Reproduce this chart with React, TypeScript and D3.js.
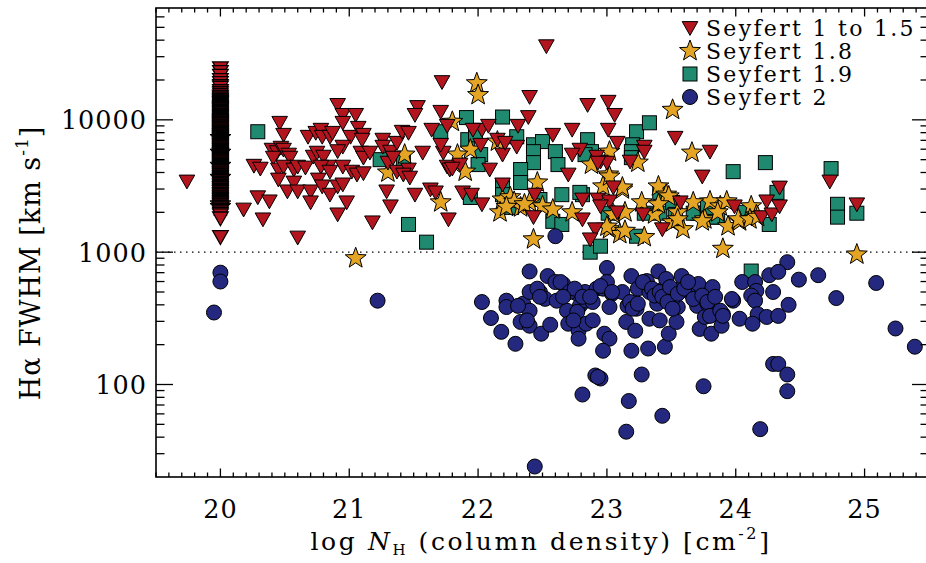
import React from "react";
import * as d3 from "d3";

const W = 926;
const H = 563;

// ---- axis ticks ----
const xMajorTicks = [20, 21, 22, 23, 24, 25];
const yMajorTicks = [100, 1000, 10000];
const yTickLabels = ["100", "1000", "10000"];

// ---- legend ----
const seriesNames = ["Seyfert 1 to 1.5", "Seyfert 1.8", "Seyfert 1.9", "Seyfert 2"];

// ---- data: [log NH, FWHM km/s] ----
// Seyfert 1 to 1.5 objects plotted at log NH = 20 (upper-limit column)
const sey1ColumnNH = 20.0;
const sey1ColumnFWHM = [
  24500, 23000, 21500, 20000, 16500, 15500, 14500, 13800, 13000, 12300, 11800, 11200,
  10700, 10200, 9800, 9400, 9100, 8800, 8500, 8200, 7900, 7600, 7400, 7200, 7000, 6800,
  6600, 6400, 6200, 6000, 5800, 5600, 5450, 5300, 5150, 5000, 4850, 4700, 4550, 4400,
  4250, 4100, 3950, 3800, 3650, 3500, 3350, 3200, 3050, 2900, 2750, 2600, 2450, 2350,
  2250, 2150, 2050, 1950, 1800, 1300,
  19000, 17500, 15000, 14000, 13400, 12700, 12000, 11500, 11000, 10500, 10000, 9600,
  9250, 8950, 8650, 8350, 8050, 7750, 7500, 7300, 7100, 6900, 6700, 6500, 6300, 6100,
  5900, 5700, 5520, 5380, 5220, 5080, 4920, 4780, 4620, 4480, 4320, 4180, 4020, 3880,
  3720, 3580, 3420, 3280, 3120, 2980, 2820, 2680, 2520, 2400, 2300, 2200, 2100, 2000, 1900,
  18000, 16000, 14800, 14200, 13600, 13200, 12500, 12100, 11700, 11300, 10850, 10350,
  9900, 9700, 9500, 9300, 9000, 8750, 8550, 8250, 8000, 7850, 7650, 7450, 7250, 7050,
  6850, 6650, 6450, 6250, 6050, 5850, 5650, 5500, 5350, 5250, 5100, 4950, 4800, 4650,
  4500, 4350, 4200, 4080, 3950, 3850, 3700, 3550, 3450, 3300, 3180, 3050, 2950, 2850,
  2720, 2620, 2550, 2480, 2380, 2280, 2180, 2080,
];

const sey1Points: [number, number][] = [
  [19.74, 3420], [20.18, 2100], [20.26, 4500], [20.31, 4280], [20.29, 2600], [20.38, 2420],
  [20.33, 1770], [20.46, 9500], [20.49, 7710], [20.40, 5950], [20.44, 5700], [20.47, 6160],
  [20.49, 5950], [20.53, 5460], [20.54, 5180], [20.41, 5180], [20.45, 4210], [20.49, 4430],
  [20.45, 3540], [20.52, 2880], [20.57, 4210], [20.60, 4430], [20.57, 3360], [20.60, 2880],
  [20.60, 1290], [20.66, 4360], [20.70, 2880], [20.70, 2380], [20.68, 7450], [20.74, 7980],
  [20.78, 8420], [20.79, 7450], [20.85, 7450], [20.87, 7980], [20.72, 5270], [20.75, 5650],
  [20.80, 5270], [20.84, 4430], [20.78, 4430], [20.76, 3540], [20.79, 3140], [20.85, 4060],
  [20.85, 2720], [20.91, 12960], [20.95, 10900], [20.95, 9500], [21.05, 10900], [21.01, 7450],
  [21.07, 8710], [21.11, 7710], [21.10, 7080], [20.95, 6270], [20.91, 5800], [20.95, 4430],
  [20.91, 3140], [20.95, 3250], [20.98, 2380], [20.91, 1930], [21.02, 4060], [21.06, 3860],
  [21.11, 3950], [21.09, 5650], [21.11, 5180], [21.16, 5650], [21.18, 1680], [21.26, 7080],
  [21.26, 6270], [21.32, 5750], [21.30, 4750], [21.37, 6710], [21.34, 5180], [21.41, 8130],
  [21.46, 7980], [21.37, 4060], [21.46, 4210], [21.42, 3860], [21.47, 3660], [21.29, 2880],
  [21.32, 2220], [21.53, 12500], [21.51, 10900], [21.51, 2720], [21.57, 5650], [21.64, 8420],
  [21.63, 2980], [21.67, 2830], [21.71, 11500], [21.73, 5650], [21.76, 4430], [21.77, 1770],
  [21.72, 19300], [22.53, 36000], [21.76, 9020], [21.71, 6480], [21.78, 4210], [22.40, 14900],
  [22.03, 8420], [22.08, 9020], [21.96, 8420], [22.31, 9020], [22.39, 10500], [22.02, 6480],
  [22.15, 7080], [22.19, 5460], [22.30, 6270], [22.21, 6710], [22.58, 7710], [22.73, 8420],
  [22.85, 12960], [23.01, 13700], [23.06, 10900], [23.01, 8420], [22.79, 5950], [22.73, 5460],
  [22.70, 3860], [23.08, 6710], [23.29, 6270], [23.18, 4840], [22.95, 4840], [22.92, 5270],
  [23.00, 4750], [23.53, 7320], [23.80, 5750], [23.74, 3730], [21.86, 4590], [21.80, 4280],
  [22.09, 4210], [21.88, 2830], [21.95, 2720], [22.03, 2300], [22.19, 3250], [22.44, 2720],
  [22.43, 1840], [22.81, 2500], [22.81, 1770], [22.91, 1490], [22.87, 1250], [22.93, 2500],
  [23.02, 2420], [23.05, 3090], [23.08, 2000], [23.28, 1930], [23.43, 1490], [23.57, 2380],
  [23.99, 2220], [22.95, 2220], [22.93, 4750], [23.29, 5750], [24.20, 1840], [24.24, 2420],
  [24.28, 1930], [24.34, 3080], [24.34, 2220], [24.73, 3420], [24.94, 2300],
];

const sey18Points: [number, number][] = [
  [20.0, 7300], [20.0, 5650], [20.0, 4500], [20.0, 3650], [20.0, 2300], [20.0, 2200],
  [21.05, 900], [21.30, 4000], [21.71, 2380], [21.43, 5460], [21.99, 18900], [22.00, 15400],
  [23.51, 11900], [21.80, 9660], [21.94, 5950], [21.84, 5460], [22.15, 6850], [21.90, 4060],
  [22.46, 3360], [23.02, 5750], [23.24, 4750], [22.88, 4590], [23.01, 3860], [23.12, 2980],
  [22.97, 3140], [23.40, 3140], [23.46, 2720], [23.66, 5650], [23.27, 2380], [22.19, 2500],
  [22.25, 2600], [22.33, 2180], [22.17, 2000], [22.40, 2380], [22.50, 2220], [22.73, 2000],
  [23.05, 1930], [23.14, 2000], [23.02, 1490], [23.10, 1370], [22.43, 1250], [23.29, 1300],
  [23.51, 1680], [23.59, 1490], [23.76, 1770], [23.80, 2420], [23.88, 2220], [23.94, 1570],
  [23.90, 1060], [23.37, 1930], [23.55, 2000], [23.67, 2380], [23.02, 3730], [23.12, 3080],
  [23.48, 2640], [23.40, 2300], [23.93, 2420], [24.12, 2220], [23.74, 1710], [24.03, 1710],
  [24.16, 1900], [23.14, 1450], [23.00, 1560], [23.55, 1770], [24.94, 960], [23.86, 2000],
  [24.02, 1770], [24.11, 1770], [24.17, 1850], [22.28, 2400], [22.36, 2300], [22.22, 2200],
  [22.58, 2100],
];

const sey19Points: [number, number][] = [
  [20.29, 8130], [21.46, 1620], [21.60, 1190], [21.71, 8130], [21.24, 5000], [21.42, 5000],
  [21.91, 10400], [22.19, 10500], [21.92, 7080], [21.98, 7710], [22.02, 5460], [22.00, 4590],
  [22.30, 7450], [22.43, 6480], [22.50, 6850], [22.43, 5750], [22.43, 4750], [22.60, 5750],
  [22.62, 4590], [22.33, 4210], [22.19, 3140], [22.33, 3360], [22.19, 2720], [21.94, 2590],
  [22.26, 2180], [22.48, 2500], [22.58, 1710], [22.65, 1620], [22.65, 2720], [22.85, 7080],
  [22.88, 5750], [23.23, 8130], [23.33, 9500], [23.20, 6480], [23.19, 5750], [22.87, 1000],
  [22.95, 1110], [22.81, 2720], [23.01, 1970], [23.23, 1320], [23.29, 1970], [23.41, 1970],
  [23.51, 2380], [23.70, 1970], [23.86, 1840], [23.98, 4060], [24.23, 4750], [24.74, 4280],
  [24.79, 2300], [24.79, 1840], [24.94, 1970], [24.32, 2830], [24.26, 1620], [23.82, 1840],
  [24.07, 2000], [24.12, 720], [22.79, 2830], [23.41, 2830], [23.53, 1930], [23.67, 1970],
  [23.78, 2180], [22.83, 5460], [23.19, 5180],
];

const sey2Points: [number, number][] = [
  [20.00, 700], [20.00, 600], [19.95, 350], [21.22, 430], [22.60, 1320],
  [22.40, 715], [23.00, 760], [23.19, 660], [23.40, 715], [22.03, 420], [22.22, 430],
  [22.10, 318], [22.18, 250], [22.29, 203], [22.35, 408], [22.40, 361], [22.33, 297],
  [22.40, 278], [22.49, 242], [22.56, 283], [22.48, 500], [22.54, 660], [22.60, 595],
  [22.66, 575], [22.52, 444], [22.61, 430], [22.69, 361], [22.70, 288], [22.77, 485],
  [22.79, 393], [22.77, 354], [22.83, 500], [22.84, 430], [22.78, 255], [22.78, 222],
  [22.84, 288], [22.89, 305], [22.89, 420], [22.92, 530], [22.97, 530], [23.04, 485],
  [23.00, 595], [22.98, 242], [23.02, 222], [22.97, 180], [23.02, 385], [23.12, 500],
  [23.16, 393], [23.15, 297], [23.23, 374], [23.22, 255], [23.19, 180], [23.24, 530],
  [23.31, 605], [23.33, 500], [23.33, 314], [23.32, 187], [23.39, 408], [23.41, 305],
  [23.45, 193], [23.44, 530], [23.46, 627], [23.48, 242], [23.54, 297], [23.55, 385],
  [23.51, 443], [23.59, 555], [23.58, 660], [23.64, 500], [23.70, 393], [23.71, 575],
  [23.72, 263], [23.76, 324], [23.78, 408], [23.82, 545], [23.81, 242], [23.89, 278],
  [23.90, 340], [23.98, 430], [24.03, 314], [24.05, 595],
  [22.91, 117], [22.95, 111], [22.93, 114], [22.81, 84], [23.27, 119], [23.17, 75],
  [23.43, 58], [23.15, 44], [23.75, 97], [22.44, 24],
  [24.40, 840], [24.26, 670], [24.33, 710], [24.49, 620], [24.64, 670], [24.78, 450],
  [25.09, 585], [25.24, 265], [25.39, 193], [24.15, 595], [24.16, 510], [24.12, 470],
  [24.15, 430], [24.29, 500], [24.41, 400], [24.17, 340], [24.24, 324], [24.33, 330],
  [24.13, 288], [24.29, 143], [24.33, 143], [24.40, 119], [24.40, 89], [24.19, 46],
  [22.40, 500], [22.46, 530], [22.48, 460], [22.64, 595], [22.71, 500], [22.75, 530],
  [22.81, 460], [22.87, 460], [22.95, 555], [23.04, 500], [23.18, 420], [23.20, 374],
  [23.24, 408], [23.28, 595], [23.35, 530], [23.37, 470], [23.41, 500], [23.43, 460],
  [23.47, 420], [23.49, 545], [23.51, 374], [23.55, 485], [23.60, 530], [23.63, 595],
  [23.67, 443], [23.74, 470], [23.78, 420], [23.80, 330], [23.84, 460], [23.88, 361],
  [23.90, 330], [23.97, 443], [22.22, 385], [22.31, 393], [22.38, 305], [22.66, 460],
  [22.74, 305],
];

// ---- styles ----
const RED = "#B3151F";
const GOLD = "#E5A524";
const TEAL = "#1F8A6F";
const NAVY = "#24297F";
const FONT = "'DejaVu Serif', serif";

const x = d3.scaleLinear().domain([19.5, 25.5]).range([156, 929]);
const y = d3.scaleLog().domain([20, 70000]).range([477, 8]);

function starPath(R: number, r: number): string {
  const pts: [number, number][] = [];
  for (let i = 0; i < 10; i++) {
    const a = -Math.PI / 2 + (i * Math.PI) / 5;
    const rad = i % 2 === 0 ? R : r;
    pts.push([rad * Math.cos(a), rad * Math.sin(a)]);
  }
  return "M" + pts.map((p) => p[0].toFixed(2) + "," + p[1].toFixed(2)).join("L") + "Z";
}
const STAR = starPath(11, 4.6);
const TRI = "M-7.8,-6.4L7.8,-6.4L0,7.4Z";

const Tri = ({ cx, cy, sw = 1 }: { cx: number; cy: number; sw?: number }) => (
  <path d={TRI} transform={`translate(${cx},${cy})`} fill={RED} stroke="#000" strokeWidth={sw} />
);
const Star = ({ cx, cy }: { cx: number; cy: number }) => (
  <path d={STAR} transform={`translate(${cx},${cy})`} fill={GOLD} stroke="#000" strokeWidth={1} />
);
const Sq = ({ cx, cy }: { cx: number; cy: number }) => (
  <rect x={cx - 7} y={cy - 7} width={14} height={14} fill={TEAL} stroke="#000" strokeWidth={1} />
);
const Circ = ({ cx, cy }: { cx: number; cy: number }) => (
  <circle cx={cx} cy={cy} r={7.5} fill={NAVY} stroke="#000" strokeWidth={1} />
);

export default function App() {
  const [x0, x1] = x.range();
  const [yb, yt] = y.range();
  const xMinor = d3.range(195, 256).map((v) => v / 10);
  const yMinor: number[] = [];
  [10, 100, 1000, 10000].forEach((dec) => {
    for (let k = 2; k <= 9; k++) {
      const v = k * dec;
      if (v > 20 && v < 70000) yMinor.push(v);
    }
  });
  const column = [...sey1ColumnFWHM].sort((a, b) => b - a);

  return (
    <svg
      width={W}
      height={H}
      style={{ position: "absolute", left: 0, top: 0, background: "#fff" }}
      fontFamily={FONT}
    >
      <rect x={0} y={0} width={W} height={H} fill="#fff" />
      {/* dotted 1000 line */}
      <line x1={x0} x2={x1} y1={y(1000)} y2={y(1000)} stroke="#000" strokeWidth={1.3} strokeDasharray="1.5,4.5" />

      {/* data */}
      <g>
        {sey19Points.map((d, i) => (
          <Sq key={"q" + i} cx={x(d[0])} cy={y(d[1])} />
        ))}
      </g>
      <g>
        {sey18Points.map((d, i) => (
          <Star key={"s" + i} cx={x(d[0])} cy={y(d[1])} />
        ))}
      </g>
      <g>
        {column.map((v, i) => (
          <Tri key={"c" + i} cx={x(sey1ColumnNH)} cy={y(v)} sw={1.3} />
        ))}
        {sey1Points.map((d, i) => (
          <Tri key={"t" + i} cx={x(d[0])} cy={y(d[1])} />
        ))}
      </g>
      <g>
        {sey2Points.map((d, i) => (
          <Circ key={"o" + i} cx={x(d[0])} cy={y(d[1])} />
        ))}
      </g>

      {/* frame */}
      <rect x={x0} y={yt} width={x1 - x0} height={yb - yt} fill="none" stroke="#000" strokeWidth={1.6} />

      {/* x ticks */}
      {xMinor.map((v, i) => {
        const major = Math.abs(v - Math.round(v)) < 1e-6 && xMajorTicks.includes(Math.round(v));
        const len = major ? 8.5 : 4.5;
        return (
          <g key={"xt" + i}>
            <line x1={x(v)} x2={x(v)} y1={yb} y2={yb - len} stroke="#000" strokeWidth={1.3} />
            <line x1={x(v)} x2={x(v)} y1={yt} y2={yt + len} stroke="#000" strokeWidth={1.3} />
          </g>
        );
      })}
      {xMajorTicks.map((v) => (
        <text key={"xl" + v} x={x(v)} y={518} textAnchor="middle" fontSize={25.5} letterSpacing={1}>
          {v}
        </text>
      ))}

      {/* y ticks */}
      {yMinor.map((v, i) => (
        <g key={"ym" + i}>
          <line x1={x0} x2={x0 + 8.5} y1={y(v)} y2={y(v)} stroke="#000" strokeWidth={1.3} />
          <line x1={x1} x2={x1 - 8.5} y1={y(v)} y2={y(v)} stroke="#000" strokeWidth={1.3} />
        </g>
      ))}
      {yMajorTicks.map((v, i) => (
        <g key={"yM" + i}>
          <line x1={x0} x2={x0 + 17} y1={y(v)} y2={y(v)} stroke="#000" strokeWidth={1.3} />
          <line x1={x1} x2={x1 - 17} y1={y(v)} y2={y(v)} stroke="#000" strokeWidth={1.3} />
          <text x={147} y={y(v) + 9.5} textAnchor="end" fontSize={25.5} letterSpacing={1}>
            {yTickLabels[i]}
          </text>
        </g>
      ))}

      {/* x title */}
      <text x={541} y={550} textAnchor="middle" fontSize={25} letterSpacing={2.6}>
        log <tspan fontStyle="italic">N</tspan>
        <tspan fontSize={15} dy={5}>H</tspan>
        <tspan dy={-5}> (column density) [cm</tspan>
        <tspan fontSize={16} dy={-11}>-2</tspan>
        <tspan dy={11}>]</tspan>
      </text>

      {/* y title */}
      <text transform="translate(40,263) rotate(-90)" textAnchor="middle" fontSize={27} letterSpacing={1}>
        Hα FWHM [km s<tspan fontSize={17} dy={-12}>-1</tspan>
        <tspan dy={12}>]</tspan>
      </text>

      {/* legend */}
      {seriesNames.map((name, i) => {
        const cy = 28 + i * 23;
        const cx = 690;
        return (
          <g key={"lg" + i}>
            {i === 0 && <Tri cx={cx} cy={cy} />}
            {i === 1 && <Star cx={cx} cy={cy} />}
            {i === 2 && <Sq cx={cx} cy={cy} />}
            {i === 3 && <Circ cx={cx} cy={cy} />}
            <text x={706} y={cy + 8} fontSize={22} letterSpacing={2.3}>
              {name}
            </text>
          </g>
        );
      })}
    </svg>
  );
}
